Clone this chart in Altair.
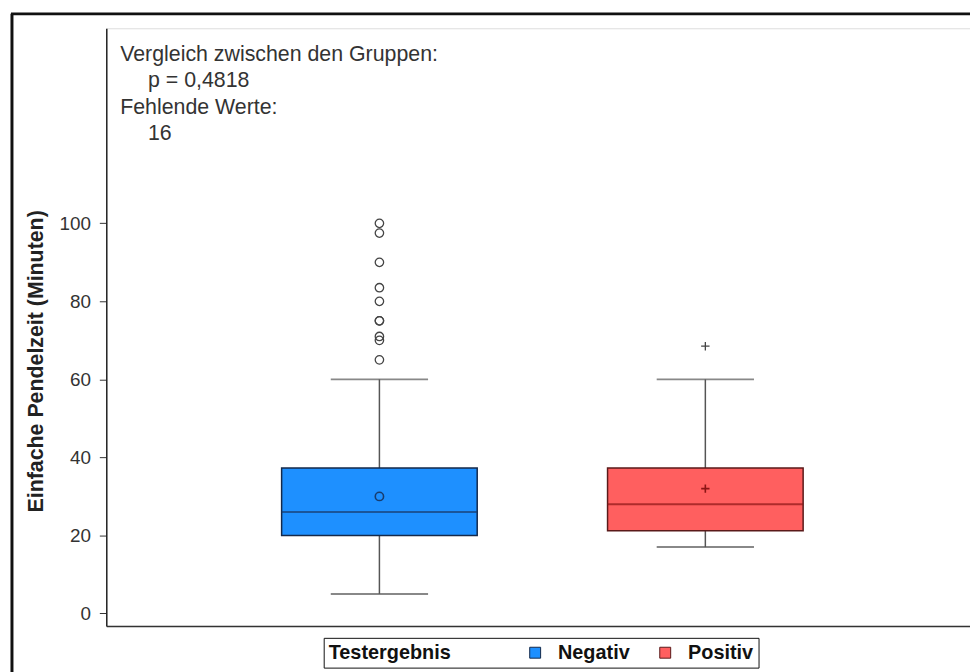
import altair as alt
import pandas as pd

# ---- data ----
groups = ["Negativ", "Positiv"]
q1 = [20, 21.2]
medians = [26, 28]
q3 = [37.3, 37.3]
whisker_low = [5, 17]
whisker_high = [60, 60]
means = [30, 32]
neg_outliers = [100, 97.5, 90, 83.5, 80, 75, 75, 71, 70, 65]
pos_outliers = [68.5]

fill_colors = ["#1e90ff", "#ff5f5f"]
box_borders = ["#14294a", "#5a1a1a"]
median_colors = ["#183c6e", "#8b1515"]
marker_shapes = ["circle", "M-1,0L1,0M0,-1L0,1"]

annot_heads = ["Vergleich zwischen den Gruppen:", "Fehlende Werte:"]
annot_values = ["p = 0,4818", "16"]
y_ticks = [0, 20, 40, 60, 80, 100]

FONT = "Liberation Sans"

box_df = pd.DataFrame({
    "Testergebnis": groups,
    "q1": q1,
    "median": medians,
    "q3": q3,
    "low": whisker_low,
    "high": whisker_high,
    "mean": means,
})
out_df = pd.DataFrame({
    "Testergebnis": ["Negativ"] * len(neg_outliers) + ["Positiv"] * len(pos_outliers),
    "value": neg_outliers + pos_outliers,
})

x_enc = alt.X(
    "Testergebnis:N",
    scale=alt.Scale(domain=groups, paddingInner=0, paddingOuter=0.325, align=0.52),
    axis=alt.Axis(labels=False, ticks=False, title=None, grid=False,
                  domain=True, domainColor="#333", domainWidth=1.5),
)
y_scale = alt.Scale(domain=[-3.2, 150], nice=False, zero=False)
y_axis = alt.Axis(
    title="Einfache Pendelzeit (Minuten)",
    values=y_ticks, grid=False,
    labelFontSize=19, labelColor="#333", labelFont=FONT, labelPadding=9,
    tickSize=7, tickColor="#333", domainColor="#222", domainWidth=1.5,
    titleFontSize=21.5, titleFontWeight="bold", titleFont=FONT, titleColor="#222",
    titlePadding=12, titleY=335,
)

def yq(field):
    return alt.Y(f"{field}:Q", scale=y_scale, axis=y_axis)

base = alt.Chart(box_df)

whisker = base.mark_rule(color="#555", strokeWidth=1.5).encode(
    x=x_enc, y=yq("low"), y2="high:Q")

caps_low = base.mark_tick(color="#555", size=98, thickness=2).encode(
    x=x_enc, y=yq("low"))
caps_high = base.mark_tick(color="#555", size=98, thickness=2).encode(
    x=x_enc, y=yq("high"))

box = base.mark_bar(size=197, strokeWidth=1.5).encode(
    x=x_enc, y=yq("q1"), y2="q3:Q",
    fill=alt.Fill(
        "Testergebnis:N",
        scale=alt.Scale(domain=groups, range=fill_colors),
        legend=alt.Legend(
            title="Testergebnis", orient="none", legendX=219, legendY=614,
            direction="horizontal", titleOrient="left",
            titleFontSize=20, titleFontWeight="bold", titleFont=FONT, titleColor="#111",
            labelFontSize=20, labelFontWeight="bold", labelFont=FONT, labelColor="#111",
            symbolType="square", symbolSize=121, symbolStrokeColor="#333",
            symbolStrokeWidth=1, strokeColor="#111", fillColor="white",
            padding=5, titlePadding=75, columnPadding=25, labelOffset=13,
        ),
    ),
    stroke=alt.Stroke("Testergebnis:N",
                      scale=alt.Scale(domain=groups, range=box_borders),
                      legend=None),
)

layers = [whisker, caps_low, caps_high, box]

for i, g in enumerate(groups):
    sel = alt.datum.Testergebnis == g
    layers.append(
        base.transform_filter(sel).mark_tick(
            size=197, thickness=2, color=median_colors[i]
        ).encode(x=x_enc, y=yq("median"))
    )
    layers.append(
        base.transform_filter(sel).mark_point(
            filled=False, size=70, strokeWidth=1.6, opacity=1,
            shape=marker_shapes[i], color=median_colors[i]
        ).encode(x=x_enc, y=yq("mean"))
    )
    layers.append(
        alt.Chart(out_df).transform_filter(sel).mark_point(
            filled=False, size=72, strokeWidth=1.3, opacity=1,
            shape=marker_shapes[i], color="#444"
        ).encode(x=x_enc, y=yq("value"))
    )

def label(text, px, py):
    return alt.Chart(pd.DataFrame({"t": [text]})).mark_text(
        align="left", baseline="alphabetic", fontSize=21.5, font=FONT, color="#333"
    ).encode(text="t:N", x=alt.value(px), y=alt.value(py))

layers += [
    label(annot_heads[0], 14, 33),
    label(annot_values[0], 42, 59),
    label(annot_heads[1], 14, 86),
    label(annot_values[1], 42, 113),
]

frame_left = alt.Chart(pd.DataFrame({"a": [0]})).mark_rule(
    color="#111", strokeWidth=3).encode(
    x=alt.value(-95), y=alt.value(-14.5), y2=alt.value(700))
frame_top = alt.Chart(pd.DataFrame({"a": [0]})).mark_rule(
    color="#111", strokeWidth=3).encode(
    x=alt.value(-96), x2=alt.value(1000), y=alt.value(-14.5))
layers += [frame_left, frame_top]

chart = alt.layer(*layers).properties(
    width=870, height=602,
    autosize=alt.AutoSizeParams(type="none"),
    padding={"left": 99, "top": 18, "right": 0, "bottom": 44},
    background="white",
).configure_view(
    stroke="#aaaaaa", strokeWidth=1.5,
).configure(font=FONT)

chart.save("out.html", embed_options={"renderer": "svg", "actions": False})
